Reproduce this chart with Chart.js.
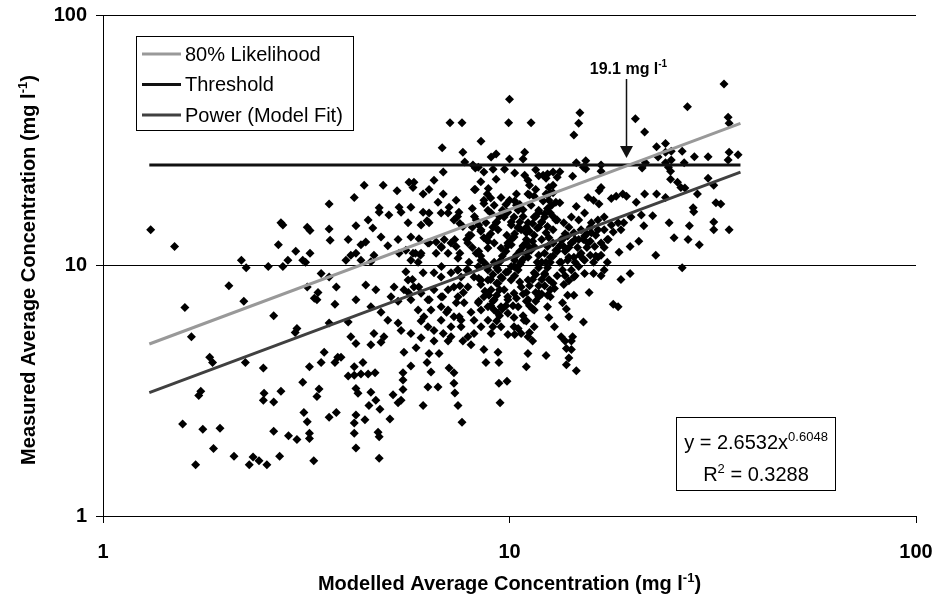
<!DOCTYPE html>
<html>
<head>
<meta charset="utf-8">
<script src="https://cdn.jsdelivr.net/npm/chart.js@4.4.1/dist/chart.umd.min.js"></script>
<style>
  html, body { margin: 0; background: #fff; }
  #wrap { width: 934px; height: 605px; position: relative; }
</style>
</head>
<body>
<div id="wrap"><canvas id="chart"></canvas></div>
<script>
// axis ticks (log-log, 1..100)
const tickValues = [1, 10, 100];

// fitted lines: endpoints over the modelled range
const lineX = [1.3, 37];
const fitY = [3.11, 23.6];          // Power (Model Fit): y = 2.6532x^0.6048
const likelihoodY = [4.86, 36.9];   // 80% Likelihood
const thresholdY = [25.2, 25.2];    // Threshold
const arrowAt = 19.4;
const arrowLabel = '19.1 mg l';

const legendLabels = ['80% Likelihood', 'Threshold', 'Power (Model Fit)'];
const lineColors = ['#999999', '#111111', '#404040'];

const xTitle = 'Modelled Average Concentration (mg l';
const yTitle = 'Measured Average Concentration (mg l';
const eqText = ['y = 2.6532x', '0.6048'];
const r2Text = ['R', '2', ' = 0.3288'];

// [modelled, measured] pairs
const samples = [
  [1.31,13.9],[1.50,11.9],[2.19,10.5],[2.25,9.8],[2.55,9.9],[2.77,9.9],[2.85,10.5],[2.74,14.8],[2.77,14.5],[2.70,12.1],
  [2.98,11.4],[3.18,14.2],[3.23,13.8],[3.23,11.2],[3.10,10.5],[3.15,10.3],[3.44,9.3],[3.60,14.0],[3.62,12.6],[3.60,9.0],
  [3.75,8.2],[3.18,8.2],[3.38,7.8],[3.31,7.4],[3.36,7.3],[3.72,7.0],[2.04,8.3],[2.22,7.2],[1.59,6.8],[2.63,6.3],
  [3.00,5.6],[2.97,5.4],[3.60,5.9],[1.65,5.2],
  [1.83,4.3],[1.86,4.1],[2.24,4.1],[2.48,3.9],[1.74,3.15],[1.72,3.03],[2.49,3.09],[2.48,2.9],[2.63,2.85],[2.74,3.15],
  [3.10,3.42],[3.22,3.94],[3.44,4.1],[3.50,4.5],[3.72,4.1],[3.78,4.3],[3.40,3.21],[3.36,3.0],[3.12,2.59],[3.18,2.38],
  [3.60,2.48],[3.75,2.59],[1.57,2.33],[1.76,2.22],[1.94,2.24],[2.63,2.18],[2.86,2.09],[3.00,2.02],[3.22,2.14],[3.22,2.04],
  [1.87,1.86],[2.10,1.73],[2.34,1.72],[2.42,1.66],[2.29,1.6],[2.53,1.6],[2.72,1.73],[3.30,1.66],[1.69,1.6],
  [4.19,4.88],[4.56,4.83],[4.83,4.94],[5.50,4.5],[5.89,4.7],[6.52,5.0],[6.34,4.45],[6.71,4.45],[7.06,5.0],[7.68,5.0],
  [8.04,4.83],[8.65,4.62],[8.75,4.1],[9.37,4.5],[9.42,4.1],[11.1,4.45],[11.0,3.94],[11.4,5.0],[6.27,4.1],[6.41,3.76],
  [5.72,3.97],[5.47,3.73],[5.47,3.49],[4.15,3.94],[4.36,4.1],[4.01,3.62],[4.15,3.65],[4.31,3.69],[4.49,3.69],[4.67,3.73],
  [4.19,3.23],[4.24,3.09],[4.56,3.12],[4.69,2.9],[4.80,2.67],[4.51,2.76],[5.17,3.05],[5.47,3.2],[5.32,2.83],[5.41,2.9],
  [6.30,3.27],[6.67,3.27],[7.10,3.9],[7.30,3.73],[7.30,3.39],[7.34,3.1],[6.13,2.76],[7.47,2.76],[7.64,2.37],[9.42,3.39],
  [9.86,3.45],[9.48,2.83],[4.19,2.53],[4.15,2.35],[4.41,2.42],[5.08,2.44],[4.15,2.14],[4.75,2.16],[4.78,2.07],[4.19,1.87],
  [4.78,1.7],[3.85,4.3],
  [12.3,4.37],[13.8,4.66],[14.0,4.27],[13.8,4.02],[14.6,3.8],[14.2,5.0],[13.7,5.0],[14.2,4.62],
  [26.6,9.8],[19.8,9.3],[18.8,8.8],[18.0,7.0],[18.5,6.85],[12.2,9.3],[12.5,8.8],[12.9,8.1],[12.6,7.5],[13.6,8.4],
  [14.4,9.0],[15.3,9.3],[16.1,9.3],[15.7,7.8],[13.9,7.6],[14.4,7.6],[13.5,7.1],[13.8,6.7],[12.4,6.85],[12.5,6.2],
  [14.0,6.25],[12.9,5.7],[15.2,5.95],[13.4,5.2],[14.3,5.2],
  [18.6,11.3],[19.8,11.9],[20.8,12.5],[22.9,11.0],[25.4,12.9],[27.5,12.7],[29.3,12.1],[24.7,14.8],[27.7,14.4],[31.8,14.9],
  [31.8,13.9],[34.7,13.9],[28.4,16.4],[22.5,15.8],[21.4,14.4],[21.1,15.9],
  [12.2,15.6],[12.6,16.2],[13.0,15.2],[12.4,14.3],[12.8,13.9],[13.6,14.8],[14.2,15.6],[14.8,15.2],[15.3,16.2],[15.9,14.8],
  [16.5,15.2],[17.1,15.6],[17.8,14.5],[18.5,14.8],[19.1,14.8],[15.0,13.9],[14.4,13.5],[13.9,13.1],[13.4,12.7],[12.8,12.3],
  [12.4,11.9],[12.2,11.2],[12.6,10.8],[13.0,11.5],[13.6,11.9],[14.2,12.3],[14.8,12.7],[15.3,13.1],[15.9,13.5],[16.5,13.9],
  [17.1,13.9],[15.6,12.3],[16.2,11.9],[16.8,12.3],[15.0,11.2],[14.4,10.8],[13.9,10.5],[13.4,10.3],[15.3,10.5],[16.5,10.8],
  [17.5,12.7],[18.0,13.6],[18.8,13.9],[19.9,15.6],
  [33.7,53.0],[27.4,43.0],[14.9,40.7],[14.8,37.0],[14.4,33.2],[20.4,38.5],[21.5,34.1],[24.2,30.7],[23.0,29.8],[24.2,28.3],
  [25.0,28.6],[26.6,28.6],[23.2,27.1],[25.0,26.4],[28.5,27.2],[30.8,27.2],[34.5,39.1],[34.7,37.0],[34.7,28.3],[34.5,26.4],
  [26.9,25.7],[24.2,25.7],[24.6,24.7],[24.9,23.8],[21.6,25.7],[21.2,24.5],[14.6,25.7],[15.4,26.2],[15.2,24.7],[15.4,24.3],
  [16.8,25.2],[16.8,23.8],[14.3,22.7],[12.8,23.6],[12.3,22.3],[12.1,22.9],[12.5,20.5],[12.8,19.5],[13.0,17.9],[16.8,20.5],
  [16.6,19.9],[24.9,22.1],[25.9,21.5],[26.4,20.5],[27.0,20.4],[30.8,22.3],[31.8,20.9],[29.0,19.3],[15.6,18.7],[16.1,18.2],
  [17.8,18.5],[19.0,19.3],[19.4,18.9],[18.3,18.9],[20.5,17.9],[21.5,19.3],[23.0,19.3],[24.2,18.7],[14.6,17.2],[16.6,17.6],
  [28.3,17.0],[32.2,17.8],[33.1,17.6],[12.3,19.3],[12.7,17.4],[12.5,18.2],[36.5,27.7],
  [4.39,20.9],[4.89,20.9],[5.29,19.9],[4.15,18.7],[5.66,21.5],[5.82,21.5],[5.79,20.5],[6.52,21.9],[6.34,20.1],[6.13,19.3],
  [6.87,19.3],[6.67,17.9],[6.87,23.6],[6.83,29.5],[7.14,37.1],[7.64,37.1],[7.68,28.3],[7.76,25.9],[8.24,24.5],[8.51,31.3],
  [10.0,46.1],[9.95,37.1],[11.3,37.1],[9.01,27.1],[9.27,27.9],[10.0,26.6],[10.9,28.3],[10.8,26.6],[8.13,25.2],[8.38,24.7],
  [8.65,23.6],[9.11,24.2],[9.72,24.2],[10.3,23.4],[9.27,22.1],[8.87,20.3],[8.24,20.1],[8.82,19.3],[8.65,17.7],[10.9,22.9],
  [11.1,21.9],[11.2,20.9],[11.1,19.3],[10.4,19.3],[10.0,18.2],[9.53,18.7],[11.5,18.9],[11.6,20.1],[9.17,17.4],[3.60,17.6],
  [4.78,16.3],[5.05,15.9],[5.41,16.3],[6.13,16.3],[6.34,16.2],[7.06,16.2],[7.51,16.3],[4.19,14.4],[4.49,15.2],[4.61,14.1],
  [4.43,12.4],[4.31,12.1],[4.19,11.2],[4.07,11.0],[3.96,10.5],[4.01,12.7],[4.31,10.5],[4.56,10.35],[4.64,11.0],[4.83,13.0],
  [5.02,12.0],[5.32,12.7],[5.63,14.8],[6.06,14.5],[6.34,14.8],[5.72,13.0],[5.99,12.8],[5.35,11.2],[5.56,11.5],[5.79,11.2],
  [6.06,11.2],[5.72,10.5],[5.96,10.3],[6.13,9.35],[5.56,9.45],[6.52,9.35],[6.79,9.0],[6.34,12.3],[6.60,12.4],[6.79,11.9],
  [6.91,12.7],[7.18,12.3],[7.39,11.9],[7.06,11.2],[6.60,11.2],[7.47,10.7],[6.79,16.2],[7.30,15.2],[7.68,14.3],[8.04,13.2],
  [7.90,12.3],[8.28,11.2],[8.51,10.5],[8.85,11.75],[9.17,12.3],[9.53,11.75],[9.91,12.3],[10.26,13.0],[10.68,13.9],[11.11,14.8],
  [11.5,15.6],[9.37,13.9],[8.85,13.0],[8.51,13.9],[8.28,15.2],[9.70,15.6],[10.26,15.6],[10.98,12.3],[11.5,11.9],[11.11,10.8],
  [10.68,10.3],[10.26,9.9],[9.91,9.45],[9.53,9.0],[9.17,10.3],[8.85,9.9],[9.37,9.6],[11.7,10.3],[11.5,9.35],[11.11,8.75],
  [10.68,8.2],[10.26,7.75],[9.91,7.3],[9.53,6.85],[9.17,6.65],[8.85,6.05],[8.51,5.7],[8.18,5.35],[7.90,5.2],[7.60,5.7],
  [7.30,6.25],[7.06,6.65],[6.79,6.85],[6.41,6.65],[6.16,6.25],[5.96,6.65],[5.72,7.3],[5.50,8.0],[5.63,8.75],[5.82,8.2],
  [6.06,7.75],[5.20,8.2],[5.11,7.5],[5.32,7.2],[4.69,8.0],[4.43,8.35],[4.19,7.3],[4.56,6.85],[4.83,6.5],[5.02,6.05],
  [5.32,5.9],[5.41,5.5],[5.72,5.35],[6.06,5.15],[6.79,6.05],[7.18,5.7],[7.60,6.05],[8.04,6.5],[8.38,7.1],[8.65,7.5],
  [9.01,8.0],[9.37,8.5],[9.70,8.0],[10.09,8.75],[10.50,6.85],[11.11,7.3],[11.5,6.65],[10.86,6.05],[10.26,5.7],[9.53,5.7],
  [9.01,5.35],[9.91,5.3],[10.68,5.35],[11.5,5.7],[11.11,5.2],[11.8,7.75],[4.01,5.95],[4.07,5.2],[4.64,5.35],[4.91,5.2],
  [6.30,5.7],[6.52,5.5],[6.87,5.35],[7.18,5.2],[7.73,7.1],[7.47,7.5],[7.30,8.2],[7.06,8.0],[6.79,7.5],[6.52,8.0],
  [6.30,7.3],[7.90,8.2],[8.18,9.0],[8.51,8.75],[7.60,9.0],[7.18,9.35],[8.85,8.75],[7.90,9.6],[7.47,9.6],[8.38,9.9],
  [9.17,7.3],[9.37,6.45],[9.91,6.45],[10.26,6.2],[8.18,6.05],[8.51,6.65],[8.85,6.85],
  [10.4,17.4],[10.8,16.7],[11.3,17.4],[11.8,16.3],[9.85,16.3],[10.1,14.5],[10.5,14.1],[11.0,13.5],[11.5,13.2],[12.0,12.7],
  [9.85,13.2],[11.3,11.5],[11.8,11.0],[12.3,10.3],[10.4,11.0],[9.53,10.5],[10.1,12.1],[9.27,14.8],[9.01,16.2],[8.75,14.8],
  [12.3,13.5],[12.5,12.9],[12.0,14.9],[11.7,14.1],[10.8,11.9],[4.78,17.0],[5.35,17.1],[5.72,17.1],[7.10,17.1],[7.39,18.2]
];

// the dark core of the cloud
const coreSamples = [
  [9.8,17.5],[9.6,16.6],[9.45,15.7],[9.3,14.9],[9.1,14.2],[8.99,13.4],[9.9,16.3],[10.1,14.9],[11.0,14.2],[11.2,13.7],
  [11.4,14.7],[11.6,15.7],[11.8,16.6],[12.1,18.1],[12.6,19.5],[12.8,20.9],[13.1,22.5],[13.3,23.7],[12.4,23.2],[11.6,24.1],
  [11.8,22.8],[11.2,19.1],[10.6,17.5],[10.5,16.6],[10.3,18.1],[10.8,15.7],[10.6,14.9],[10.5,14.2],[10.3,13.4],[10.1,12.7],
  [9.9,12.0],[9.8,11.4],[9.6,10.9],[9.45,10.3],[9.3,9.8],[9.1,9.2],[8.99,8.8],[11.0,12.7],[11.4,12.5],[11.2,11.8],
  [11.0,11.2],[10.8,10.6],[10.6,10.1],[10.5,9.6],[10.3,9.1],[12.0,10.3],[11.8,9.8],[11.6,9.2],[11.4,8.8],[11.2,8.3],
  [11.0,7.8],[13.1,15.2],[13.3,17.8],[12.8,15.7],[12.4,16.9],[12.2,16.1],[12.0,14.9],[11.8,14.2],[14.0,14.2],[13.7,13.4],
  [13.5,12.7],[13.3,12.0],[13.1,11.4],[12.8,10.9],[12.6,10.3],[12.4,9.8],[12.2,9.2],[12.0,8.8],[11.8,8.3],[11.6,7.8],
  [13.3,10.3],[13.5,9.6],[13.7,9.1],[14.0,8.7],[13.1,9.1],[12.8,8.5],[12.6,8.0],[12.4,7.6],[9.45,8.0],[9.3,7.6],
  [9.1,7.2],[8.99,6.9],[9.3,8.5],[9.6,8.9],[9.8,9.4],[10.1,9.9],[10.3,10.5],[10.6,11.4],[10.8,12.0],[10.2,6.9],
  [10.4,7.4],[9.9,7.5],[9.8,6.9],[9.6,6.7],[9.45,6.3],[9.3,6.0],[9.1,5.7],[10.6,8.6],[10.8,7.7],[11.0,7.2],
  [11.2,6.9],[11.4,6.7],[11.6,7.2],[11.8,7.5],[12.0,7.7],[12.2,8.3],[11.0,6.0],[11.2,5.4],[10.8,6.3],[10.5,5.6],
  [10.3,5.3],[14.5,12.7],[14.2,12.3],[14.0,11.8],[13.7,11.4],[14.0,10.8],[14.5,10.3],[14.2,9.6],[14.5,9.1],[14.9,11.0],
  [15.2,10.6],[15.8,11.0],[14.7,11.8],[14.8,9.9],[15.5,11.8],[15.8,12.5],[16.3,13.2],[17.4,12.7],[17.1,11.8],[16.8,11.0],
  [16.3,10.9],[16.1,10.3],[17.4,10.3],[17.1,9.6],[16.8,9.1],[15.8,14.2],[15.5,13.4],[15.2,12.7],[8.4,14.5],[8.5,13.7],
  [8.65,12.9],[8.85,12.5],[8.4,11.4],[8.5,10.9],[8.65,10.3],[8.85,9.6],[8.4,8.9],[8.5,8.4],[8.7,7.9],[8.9,7.6],
  [8.4,7.2],[7.85,12.7],[7.95,13.2],[8.1,14.2],[8.2,15.7],[8.1,16.9],[8.2,20.1],[8.5,21.6],[8.99,18.6],[8.65,18.2],
  [8.85,16.6],[7.45,15.7],[7.55,14.7],[7.33,12.7],[7.55,11.2],[7.45,9.6],[7.55,8.3],[7.7,7.8],[7.4,7.1],[7.52,6.24],
  [7.85,9.6],[7.95,10.3],[8.1,11.8],[6.8,11.8],[6.8,9.9],[6.85,7.5],[7.0,6.5],[6.27,15.1],[6.3,12.3],[6.35,7.3],
  [5.87,11.2],[6.04,11.0],[5.98,8.2],[5.64,7.8],[5.77,8.8],[6.06,6.0]
];

const FONT = '"Liberation Sans", Arial, sans-serif';

// draw a row of text pieces, some raised as superscripts
function drawRuns(ctx, runs, x, y, size, bold, align) {
  const fontOf = sup => (bold ? 'bold ' : '') + (sup ? Math.round(size * 0.65) : size) + 'px ' + FONT;
  let total = 0;
  runs.forEach(r => { ctx.font = fontOf(r[1]); total += ctx.measureText(r[0]).width; });
  let cx = align === 'center' ? x - total / 2 : x;
  ctx.textAlign = 'left';
  ctx.textBaseline = 'alphabetic';
  runs.forEach(r => {
    ctx.font = fontOf(r[1]);
    ctx.fillText(r[0], cx, r[1] ? y - size * 0.42 : y);
    cx += ctx.measureText(r[0]).width;
  });
}

const overlay = {
  id: 'overlay',
  afterDraw(chart) {
    const ctx = chart.ctx;
    const xs = chart.scales.x, ys = chart.scales.y;
    ctx.save();
    ctx.fillStyle = '#000';

    // axis titles
    drawRuns(ctx, [[xTitle, false], ['-1', true], [')', false]], (chart.chartArea.left + chart.chartArea.right) / 2, 590, 20, true, 'center');
    ctx.save();
    ctx.translate(35, 270);
    ctx.rotate(-Math.PI / 2);
    drawRuns(ctx, [[yTitle, false], ['-1', true], [')', false]], 0, 0, 20, true, 'center');
    ctx.restore();

    // legend box
    ctx.lineWidth = 1;
    ctx.strokeStyle = '#000';
    ctx.strokeRect(136.5, 36.5, 217, 94);
    const rows = [54, 84.5, 115];
    legendLabels.forEach((lab, i) => {
      ctx.strokeStyle = lineColors[i];
      ctx.lineWidth = 3;
      ctx.beginPath();
      ctx.moveTo(142, rows[i]);
      ctx.lineTo(181, rows[i]);
      ctx.stroke();
      ctx.font = '20px ' + FONT;
      ctx.textBaseline = 'middle';
      ctx.textAlign = 'left';
      ctx.fillStyle = '#000';
      ctx.fillText(lab, 185, rows[i] + 1);
    });

    // equation box
    ctx.strokeStyle = '#000';
    ctx.lineWidth = 1;
    ctx.strokeRect(676.5, 417.5, 159, 73);
    drawRuns(ctx, [[eqText[0], false], [eqText[1], true]], 756, 449, 20, false, 'center');
    drawRuns(ctx, [[r2Text[0], false], [r2Text[1], true], [r2Text[2], false]], 756, 481, 20, false, 'center');

    // threshold crossing arrow
    const ax = Math.round(xs.getPixelForValue(arrowAt)) + 0.5;
    const tipY = ys.getPixelForValue(thresholdY[0]) - 7;
    ctx.strokeStyle = '#111';
    ctx.lineWidth = 1.5;
    ctx.beginPath();
    ctx.moveTo(ax, 79);
    ctx.lineTo(ax, tipY - 10);
    ctx.stroke();
    ctx.fillStyle = '#111';
    ctx.beginPath();
    ctx.moveTo(ax - 6.5, tipY - 12);
    ctx.lineTo(ax + 6.5, tipY - 12);
    ctx.lineTo(ax, tipY);
    ctx.closePath();
    ctx.fill();
    ctx.fillStyle = '#000';
    drawRuns(ctx, [[arrowLabel, false], ['-1', true]], ax + 2, 74, 16, true, 'center');
    ctx.restore();
  }
};

const lineData = ys => lineX.map((x, i) => ({ x: x, y: ys[i] }));
const cloud = samples.concat(coreSamples).map(p => ({ x: p[0], y: p[1] }));

new Chart(document.getElementById('chart'), {
  type: 'scatter',
  data: {
    datasets: [
      { type: 'line', label: legendLabels[0], data: lineData(likelihoodY), borderColor: lineColors[0], borderWidth: 3, pointRadius: 0, fill: false, order: 0 },
      { type: 'line', label: legendLabels[1], data: lineData(thresholdY), borderColor: lineColors[1], borderWidth: 3, pointRadius: 0, fill: false, order: 0 },
      { type: 'line', label: legendLabels[2], data: lineData(fitY), borderColor: lineColors[2], borderWidth: 3, pointRadius: 0, fill: false, order: 0 },
      { label: 'Measured', data: cloud, pointStyle: 'rectRot', pointRadius: 4.5,
        backgroundColor: '#000', borderColor: '#000', borderWidth: 0, order: 1 }
    ]
  },
  options: {
    responsive: true,
    maintainAspectRatio: false,
    animation: false,
    devicePixelRatio: 1,
    layout: { padding: { top: 15, right: 18, left: 0, bottom: 0 } },
    plugins: { legend: { display: false }, tooltip: { enabled: false } },
    scales: {
      x: {
        type: 'logarithmic', min: 1, max: 100, position: 'bottom',
        afterBuildTicks: s => { s.ticks = tickValues.map(v => ({ value: v })); },
        afterFit: s => { s.height = 89; s.paddingLeft = 0; s.paddingRight = 0; },
        border: { display: true, color: '#000', width: 1 },
        grid: { drawOnChartArea: false, drawTicks: true, tickLength: 7, tickColor: '#000', color: '#000' },
        ticks: { callback: v => String(v), color: '#000', font: { family: FONT, size: 20, weight: 'bold' }, padding: 17, maxRotation: 0, autoSkip: false },
        title: { display: false }
      },
      y: {
        type: 'logarithmic', min: 1, max: 100,
        afterBuildTicks: s => { s.ticks = tickValues.map(v => ({ value: v })); },
        afterFit: s => { s.width = 103; s.paddingTop = 0; s.paddingBottom = 0; },
        border: { display: true, color: '#000', width: 1 },
        grid: { color: c => (c.tick && c.tick.value === 1) ? 'rgba(0,0,0,0)' : '#000', lineWidth: 1, drawTicks: true, tickLength: 7, tickColor: '#000' },
        ticks: { callback: v => String(v), color: '#000', font: { family: FONT, size: 20, weight: 'bold' }, padding: 9, autoSkip: false },
        title: { display: false }
      }
    }
  },
  plugins: [overlay]
});
</script>
</body>
</html>
